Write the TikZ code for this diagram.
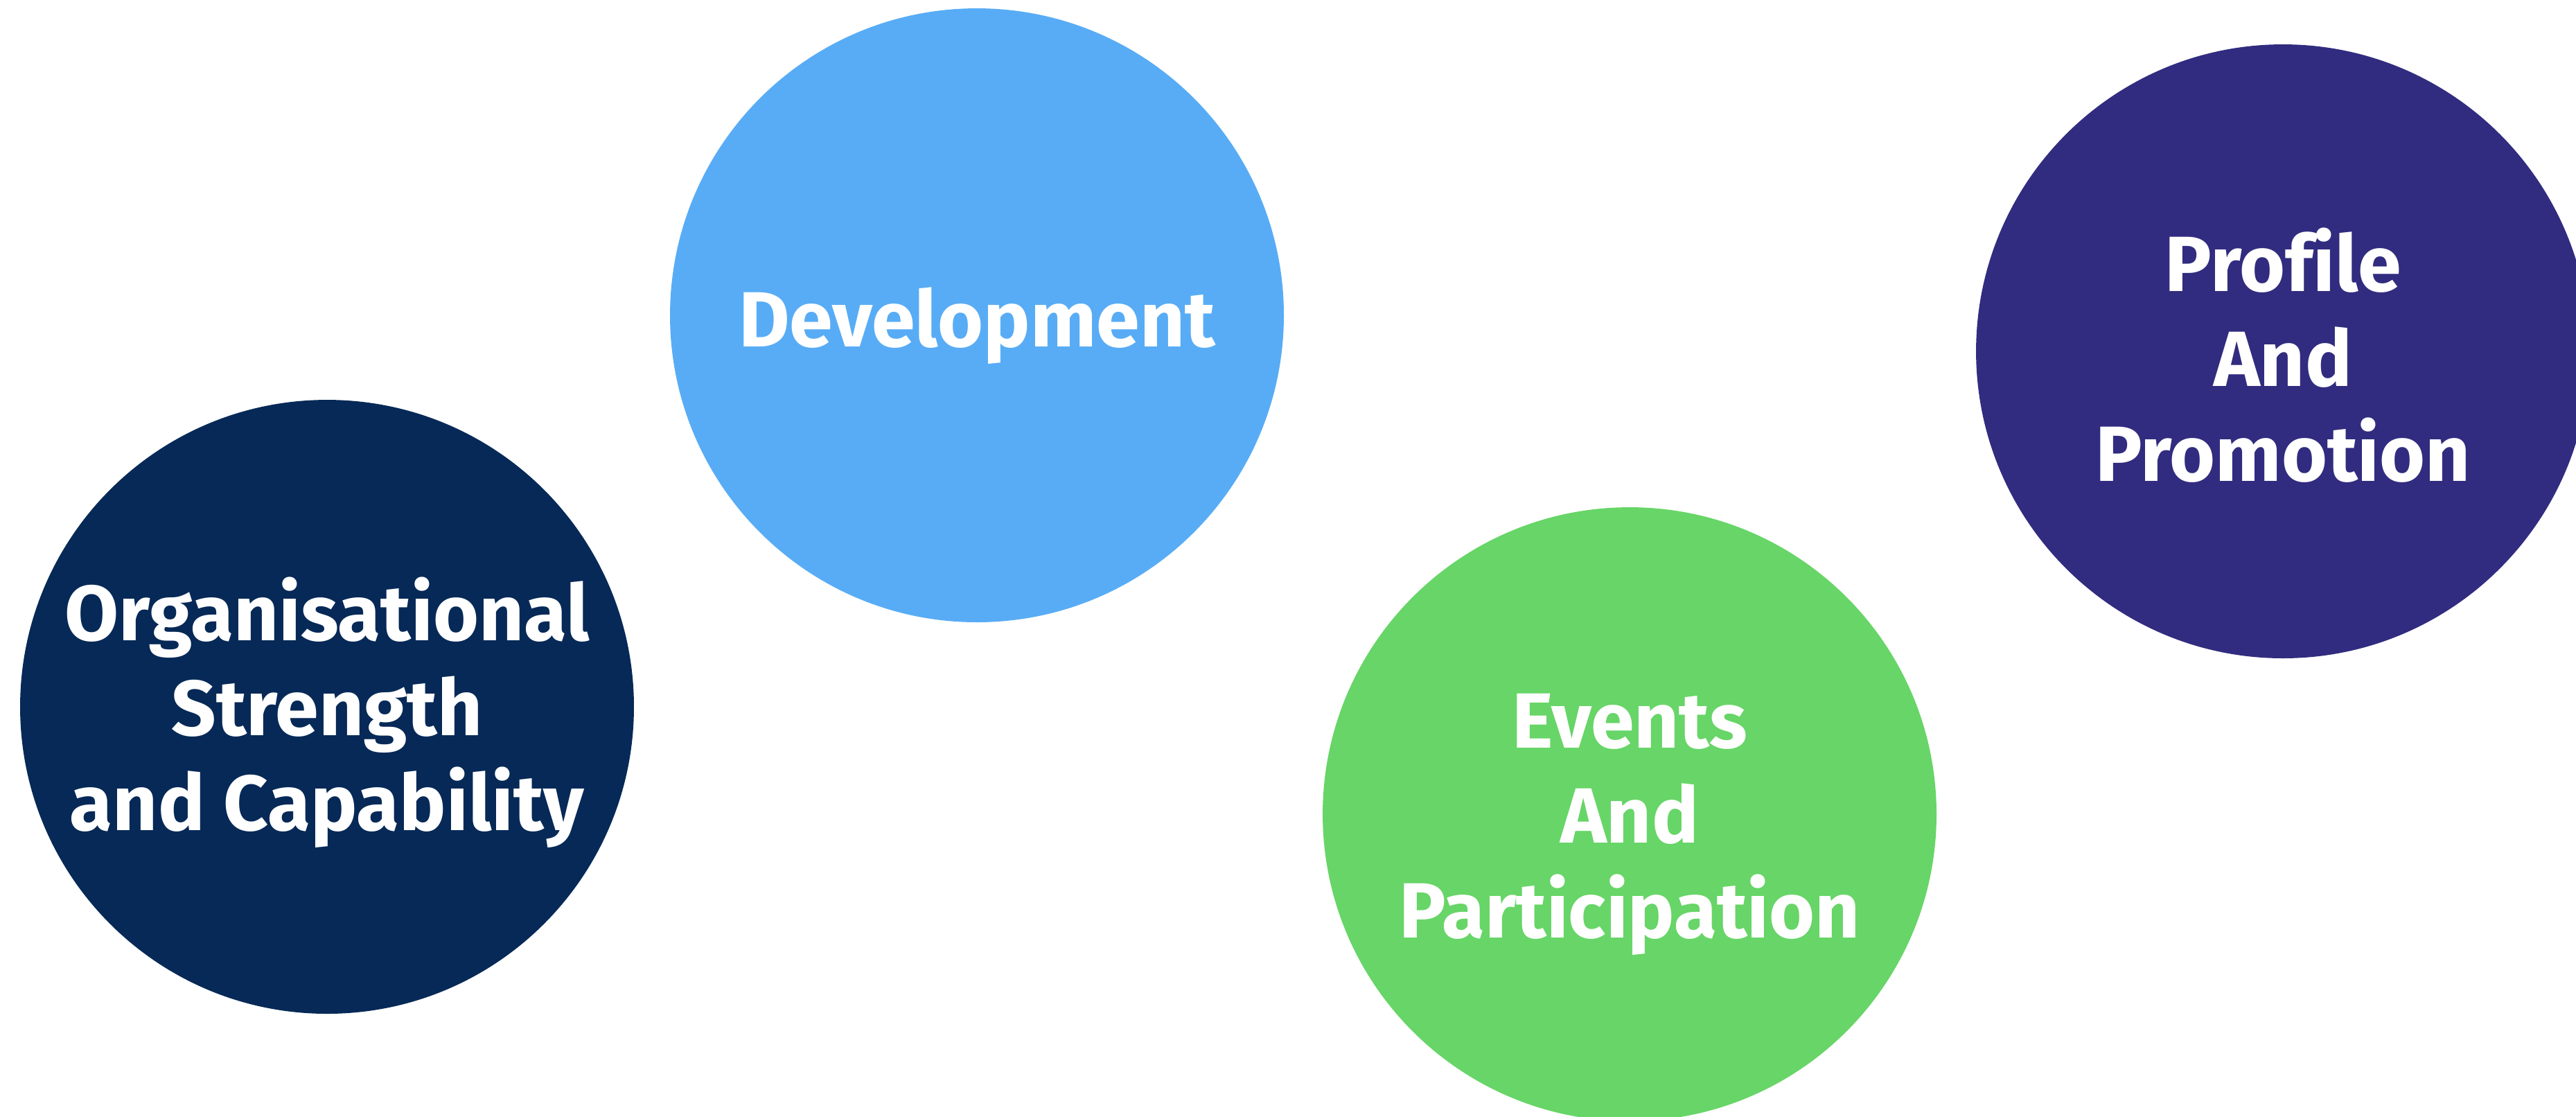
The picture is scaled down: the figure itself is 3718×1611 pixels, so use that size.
\documentclass[tikz,border=0pt]{standalone}
\usepackage{fontspec}
\setmainfont[Ligatures={NoCommon}]{Fira Sans}
\definecolor{navyc}{RGB}{6,41,87}
\definecolor{skyc}{RGB}{88,172,245}
\definecolor{greenc}{RGB}{103,213,103}
\definecolor{purplec}{RGB}{49,44,127}
\begin{document}
\begin{tikzpicture}[x=0.1pt,y=-0.1pt,
  bubble/.style={circle, minimum size=88.6pt, inner sep=0pt, draw=none},
  caption/.style={text=white, align=center, inner sep=0pt,
    font=\bfseries\fontsize{11.3}{13.7}\selectfont}]
\useasboundingbox (0,0) rectangle (3718,1611);
\begin{scope}
\clip (0,0) rectangle (3718,1611);
% four coloured discs
\node[bubble, fill=navyc]   (org)  at (472,1020) {};
\node[bubble, fill=skyc]    (dev)  at (1410,455) {};
\node[bubble, fill=greenc]  (evt)  at (2352,1175) {};
\node[bubble, fill=purplec] (prof) at (3295,507) {};
\end{scope}
% captions
\node[caption] (orgtxt)  at (472,1028)  {Organisational\\Strength\\and Capability};
\node[caption] (devtxt)  at (1410,470)  {Development};
\node[caption] (evttxt)  at (2352,1190) {Events\\And\\Participation};
\node[caption] (proftxt) at (3295,513)  {Profile\\And\\Promotion};
\end{tikzpicture}
\end{document}
